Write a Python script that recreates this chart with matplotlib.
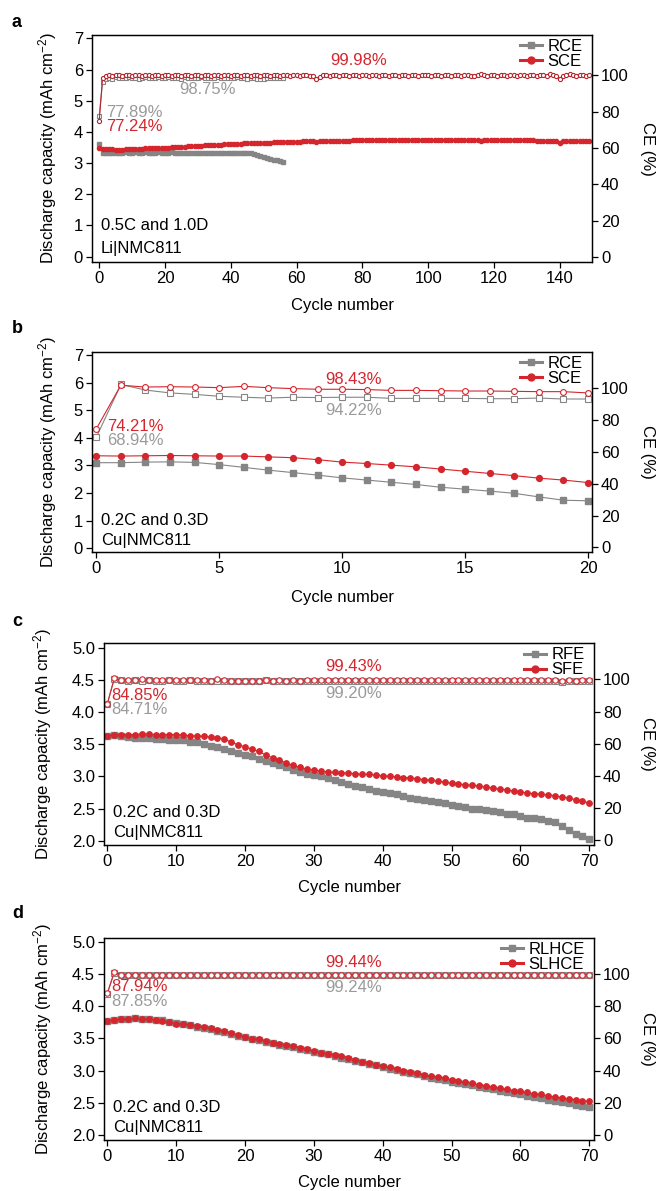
import numpy as np
import matplotlib.pyplot as plt
from matplotlib.lines import Line2D

plt.rcParams['font.family'] = ['Liberation Sans', 'DejaVu Sans']
plt.rcParams['mathtext.default'] = 'regular'
plt.rcParams['font.size'] = 12
plt.rcParams['axes.linewidth'] = 0.9

RED = '#d5262d'
GREY = '#858585'
GREY_TXT = '#9a9a9a'
FS = 12

# ---------------- panel a : Li|NMC811, 0.5C / 1.0D ----------------
cap_a_rce = [3.62, 3.34, 3.33, 3.34, 3.34, 3.33, 3.34, 3.34, 3.35, 3.34,
             3.34, 3.35, 3.34, 3.34, 3.35, 3.34, 3.34, 3.34, 3.35, 3.34,
             3.34, 3.34, 3.35, 3.34, 3.34, 3.34, 3.33, 3.34, 3.34, 3.33,
             3.34, 3.33, 3.33, 3.34, 3.33, 3.33, 3.33, 3.32, 3.33, 3.33,
             3.32, 3.32, 3.32, 3.32, 3.31, 3.31, 3.31, 3.30, 3.27, 3.23,
             3.19, 3.16, 3.13, 3.11, 3.09, 3.07, 3.05]
ce_a_rce = [77.89, 96.2, 98.0, 98.6, 98.3, 98.9, 98.5, 98.7, 98.4, 98.9,
            98.6, 98.8, 98.3, 98.7, 99.0, 98.5, 98.8, 98.6, 98.9, 98.4,
            98.7, 98.9, 98.5, 98.8, 98.6, 98.3, 98.9, 98.7, 98.5, 98.8,
            98.6, 98.9, 98.4, 98.7, 98.8, 98.5, 98.9, 98.6, 98.7, 98.4,
            98.8, 98.6, 98.9, 98.5, 98.7, 98.3, 98.6, 98.8, 98.2, 97.9,
            98.1, 98.4, 98.6, 98.7, 98.5, 98.8, 98.6]
cap_a_sce = [3.47, 3.46, 3.45, 3.44, 3.44, 3.43, 3.43, 3.43, 3.44, 3.44,
             3.45, 3.45, 3.46, 3.46, 3.47, 3.47, 3.48, 3.48, 3.49, 3.49,
             3.50, 3.50, 3.51, 3.52, 3.52, 3.53, 3.53, 3.54, 3.55, 3.55,
             3.56, 3.56, 3.57, 3.57, 3.58, 3.58, 3.59, 3.59, 3.60, 3.60,
             3.61, 3.61, 3.62, 3.62, 3.63, 3.63, 3.64, 3.64, 3.65, 3.65,
             3.66, 3.66, 3.66, 3.67, 3.67, 3.67, 3.68, 3.68, 3.68, 3.69,
             3.69, 3.69, 3.70, 3.70, 3.70, 3.70, 3.68, 3.70, 3.71, 3.71,
             3.71, 3.71, 3.72, 3.72, 3.72, 3.72, 3.72, 3.73, 3.73, 3.73,
             3.73, 3.73, 3.73, 3.74, 3.74, 3.74, 3.74, 3.74, 3.74, 3.74,
             3.74, 3.74, 3.75, 3.75, 3.75, 3.75, 3.75, 3.75, 3.75, 3.75,
             3.75, 3.75, 3.75, 3.75, 3.75, 3.75, 3.75, 3.75, 3.75, 3.75,
             3.75, 3.75, 3.74, 3.74, 3.74, 3.73, 3.71, 3.74, 3.74, 3.74,
             3.74, 3.74, 3.74, 3.74, 3.74, 3.74, 3.73, 3.73, 3.73, 3.73,
             3.73, 3.73, 3.73, 3.72, 3.72, 3.72, 3.72, 3.72, 3.72, 3.71,
             3.64, 3.70, 3.71, 3.71, 3.71, 3.71, 3.71, 3.71, 3.71, 3.72]
ce_a_sce = [75.0, 98.4, 99.9, 100.1, 99.8, 100.2, 100.0, 99.9, 100.3, 100.1,
            99.8, 100.2, 100.0, 99.9, 100.1, 100.3, 99.8, 100.0, 100.2, 99.9,
            100.1, 100.0, 99.8, 100.2, 100.1, 99.9, 100.3, 100.0, 99.8, 100.1,
            100.2, 99.9, 100.0, 100.1, 99.8, 100.2, 100.0, 99.9, 100.1, 100.0,
            99.8, 100.2, 100.1, 99.9, 100.0, 100.2, 99.8, 100.1, 100.0, 99.9,
            100.2, 100.0, 99.8, 100.1, 100.2, 99.9, 100.0, 100.1, 99.8, 100.0,
            100.2, 99.9, 100.1, 100.0, 99.8, 99.6, 97.8, 99.4, 100.0, 100.2,
            99.9, 100.1, 100.0, 99.8, 100.2, 100.0, 99.9, 100.1, 100.0, 99.8,
            100.2, 100.1, 99.9, 100.0, 100.2, 99.8, 100.1, 100.0, 99.9, 100.5,
            100.2, 99.9, 100.1, 100.0, 99.8, 100.2, 100.0, 99.9, 100.1, 100.0,
            100.2, 99.8, 100.0, 100.1, 99.9, 100.2, 100.0, 99.8, 100.4, 100.1,
            99.9, 100.0, 100.1, 99.8, 99.6, 100.0, 101.0, 100.2, 99.9, 100.1,
            100.0, 99.8, 100.2, 100.0, 99.9, 100.1, 100.0, 99.8, 100.2, 100.1,
            99.9, 100.0, 100.2, 99.8, 100.1, 100.3, 99.9, 100.6, 100.2, 99.8,
            97.8, 99.5, 100.0, 100.9, 100.1, 99.9, 100.0, 100.2, 99.9, 100.1]
names_a = ['RCE', 'SCE']
# order: top red, top grey, first-cycle red, first-cycle grey
notes_a = ['99.98%', '98.75%', '77.24%', '77.89%']
cond_a = ['0.5C and 1.0D', 'Li|NMC811']

# ---------------- panel b : Cu|NMC811, 20 cycles ----------------
cap_b_rce = [3.10, 3.10, 3.12, 3.13, 3.11, 3.03, 2.93, 2.83, 2.74, 2.65, 2.55,
             2.47, 2.39, 2.31, 2.21, 2.14, 2.07, 1.99, 1.86, 1.74, 1.72]
ce_b_rce = [68.94, 102.0, 98.5, 96.7, 95.8, 94.6, 94.0, 93.5, 94.0, 93.8, 94.0,
            94.0, 93.3, 93.3, 93.3, 93.3, 93.1, 93.1, 93.5, 92.9, 92.9]
cap_b_sce = [3.35, 3.34, 3.35, 3.36, 3.35, 3.34, 3.34, 3.31, 3.28, 3.21, 3.12,
             3.07, 3.01, 2.95, 2.87, 2.79, 2.71, 2.63, 2.54, 2.47, 2.38]
ce_b_sce = [74.21, 101.5, 100.4, 100.6, 100.4, 100.0, 100.8, 100.0, 99.4, 99.0, 99.0,
            98.8, 98.3, 98.3, 98.1, 97.9, 97.9, 97.7, 97.5, 97.5, 96.7]
names_b = ['RCE', 'SCE']
notes_b = ['98.43%', '94.22%', '74.21%', '68.94%']
cond_b = ['0.2C and 0.3D', 'Cu|NMC811']

# ---------------- panel c : RFE / SFE, 70 cycles ----------------
cap_c_rfe = [3.63, 3.64, 3.62, 3.61, 3.60, 3.59, 3.59, 3.58, 3.58, 3.57,
             3.57, 3.56, 3.54, 3.53, 3.50, 3.47, 3.45, 3.43, 3.40, 3.36,
             3.33, 3.31, 3.27, 3.24, 3.21, 3.18, 3.14, 3.10, 3.07, 3.04,
             3.02, 3.00, 2.97, 2.94, 2.91, 2.88, 2.85, 2.83, 2.80, 2.78,
             2.76, 2.74, 2.73, 2.70, 2.67, 2.65, 2.63, 2.61, 2.60, 2.58,
             2.56, 2.54, 2.52, 2.50, 2.49, 2.47, 2.46, 2.44, 2.42, 2.41,
             2.38, 2.36, 2.35, 2.33, 2.31, 2.29, 2.23, 2.16, 2.11, 2.08,
             2.03]
ce_c_rfe = [84.71, 100.2, 99.4, 99.3, 99.5, 99.2, 99.4, 99.3, 99.2, 99.4,
            99.3, 99.2, 99.4, 99.3, 99.1, 99.2, 99.3, 99.1, 99.0, 99.2,
            99.1, 99.3, 99.2, 99.4, 99.3, 99.2, 99.3, 99.1, 99.2, 99.3,
            99.2, 99.3, 99.2, 99.1, 99.3, 99.2, 99.3, 99.2, 99.1, 99.3,
            99.2, 99.3, 99.2, 99.1, 99.3, 99.2, 99.3, 99.1, 99.2, 99.3,
            99.2, 99.1, 99.3, 99.2, 99.3, 99.2, 99.1, 99.3, 99.2, 99.3,
            99.1, 99.2, 99.3, 99.2, 99.1, 99.0, 98.5, 98.8, 99.0, 99.1,
            99.2]
cap_c_sfe = [3.63, 3.65, 3.65, 3.65, 3.65, 3.66, 3.66, 3.65, 3.65, 3.65,
             3.65, 3.64, 3.63, 3.63, 3.62, 3.61, 3.60, 3.58, 3.53, 3.49,
             3.46, 3.42, 3.39, 3.33, 3.29, 3.25, 3.21, 3.17, 3.14, 3.11,
             3.10, 3.08, 3.07, 3.06, 3.05, 3.05, 3.04, 3.03, 3.03, 3.02,
             3.01, 3.00, 2.99, 2.98, 2.98, 2.96, 2.95, 2.94, 2.92, 2.91,
             2.89, 2.88, 2.87, 2.86, 2.85, 2.83, 2.82, 2.80, 2.79, 2.77,
             2.76, 2.74, 2.73, 2.72, 2.71, 2.70, 2.68, 2.66, 2.64, 2.61,
             2.59]
ce_c_sfe = [84.85, 100.6, 99.6, 99.5, 99.6, 100.0, 99.7, 99.6, 99.5, 99.6,
            99.5, 99.6, 99.5, 99.7, 99.6, 99.3, 100.0, 99.4, 99.2, 99.3,
            99.3, 99.2, 99.3, 99.4, 99.3, 99.4, 99.3, 99.4, 99.3, 99.5,
            99.4, 99.5, 99.4, 99.5, 99.4, 99.5, 99.4, 99.5, 99.4, 99.5,
            99.4, 99.5, 99.4, 99.5, 99.4, 99.5, 99.4, 99.5, 99.4, 99.5,
            99.5, 99.4, 99.5, 99.4, 99.5, 99.4, 99.5, 99.4, 99.5, 99.4,
            99.5, 99.4, 99.5, 99.4, 99.5, 99.4, 99.2, 99.4, 99.3, 99.5,
            99.6]
names_c = ['RFE', 'SFE']
notes_c = ['99.43%', '99.20%', '84.85%', '84.71%']
cond_c = ['0.2C and 0.3D', 'Cu|NMC811']

# ---------------- panel d : RLHCE / SLHCE, 70 cycles ----------------
cap_d_rlhce = [3.77, 3.79, 3.80, 3.80, 3.81, 3.80, 3.80, 3.79, 3.78, 3.76,
               3.74, 3.72, 3.70, 3.68, 3.66, 3.64, 3.62, 3.60, 3.57, 3.54,
               3.52, 3.49, 3.47, 3.45, 3.42, 3.40, 3.38, 3.36, 3.34, 3.32,
               3.29, 3.27, 3.25, 3.22, 3.20, 3.18, 3.15, 3.13, 3.10, 3.08,
               3.05, 3.03, 3.01, 2.98, 2.96, 2.94, 2.91, 2.89, 2.87, 2.85,
               2.83, 2.81, 2.79, 2.77, 2.75, 2.73, 2.71, 2.69, 2.67, 2.65,
               2.63, 2.61, 2.59, 2.57, 2.55, 2.53, 2.51, 2.49, 2.47, 2.45,
               2.43]
ce_d_rlhce = [87.85, 100.6, 99.3, 99.2, 99.3, 99.2, 99.1, 99.3, 99.2, 99.3,
              99.2, 99.4, 99.2, 99.3, 99.2, 99.1, 99.3, 99.2, 99.3, 99.2,
              99.1, 99.3, 99.2, 99.3, 99.2, 99.1, 99.3, 99.2, 99.3, 99.2,
              99.3, 99.2, 99.1, 99.3, 99.2, 99.3, 99.2, 99.1, 99.3, 99.2,
              99.3, 99.2, 99.1, 99.3, 99.2, 99.3, 99.2, 99.1, 99.3, 99.2,
              99.3, 99.2, 99.1, 99.3, 99.2, 99.3, 99.2, 99.4, 99.3, 99.2,
              99.3, 99.2, 99.1, 99.3, 99.2, 99.3, 99.2, 99.1, 99.3, 99.6,
              99.2]
cap_d_slhce = [3.77, 3.79, 3.80, 3.80, 3.81, 3.80, 3.80, 3.78, 3.77, 3.75,
               3.73, 3.73, 3.71, 3.69, 3.67, 3.66, 3.63, 3.61, 3.58, 3.55,
               3.52, 3.49, 3.49, 3.46, 3.43, 3.41, 3.39, 3.38, 3.35, 3.33,
               3.30, 3.28, 3.26, 3.24, 3.22, 3.20, 3.17, 3.14, 3.12, 3.09,
               3.07, 3.05, 3.02, 3.00, 2.98, 2.96, 2.93, 2.91, 2.90, 2.88,
               2.86, 2.84, 2.82, 2.80, 2.78, 2.76, 2.74, 2.73, 2.71, 2.69,
               2.68, 2.66, 2.64, 2.63, 2.61, 2.59, 2.58, 2.56, 2.55, 2.53,
               2.52]
ce_d_slhce = [87.94, 101.2, 99.5, 99.4, 99.5, 99.4, 99.5, 99.4, 99.5, 99.4,
              99.5, 99.6, 99.5, 99.4, 99.5, 99.4, 99.5, 99.4, 99.5, 99.4,
              99.5, 99.4, 99.5, 99.4, 99.5, 99.4, 99.5, 99.4, 99.5, 99.4,
              99.5, 99.4, 99.5, 99.4, 99.5, 99.4, 99.5, 99.4, 99.5, 99.4,
              99.5, 99.4, 99.5, 99.4, 99.5, 99.4, 99.5, 99.4, 99.5, 99.4,
              99.5, 99.4, 99.5, 99.4, 99.5, 99.4, 99.5, 99.4, 99.5, 99.4,
              99.5, 99.4, 99.5, 99.4, 99.5, 99.4, 99.5, 99.4, 99.5, 99.4,
              99.5]
names_d = ['RLHCE', 'SLHCE']
notes_d = ['99.44%', '99.24%', '87.94%', '87.85%']
cond_d = ['0.2C and 0.3D', 'Cu|NMC811']


fig = plt.figure(figsize=(6.6, 11.91), dpi=100)


def draw_panel(rect, letter, letter_y, cap_r, ce_r, cap_s, ce_s, names, notes, cond,
               note_pos, ms, xlim, xticks, ylim, yticks, yfmt, xlab_y, ylab_x,
               ce_edge=RED):
    ax = fig.add_axes(rect)
    ax2 = ax.twinx()
    xr = np.arange(len(cap_r))
    xs = np.arange(len(cap_s))

    # discharge capacity (left axis), filled markers
    ax.plot(xr, cap_r, '-s', color=GREY, mfc=GREY, mec=GREY, ms=ms, lw=0.8)
    ax.plot(xs, cap_s, '-o', color=RED, mfc=RED, mec=RED, ms=ms, lw=0.8)
    # coulombic efficiency (right axis), open markers
    ax2.plot(np.arange(len(ce_r)), ce_r, '-s', color=GREY, mfc='white', mec=GREY,
             ms=ms, mew=0.8, lw=0.8)
    ax2.plot(np.arange(len(ce_s)), ce_s, '-o', color=ce_edge, mfc='white', mec=ce_edge,
             ms=ms, mew=0.8, lw=0.8)

    ax.set_xlim(*xlim)
    ax.set_ylim(*ylim)
    ax2.set_ylim(-3.0, 122.5)
    ax.set_xticks(xticks)
    ax.set_yticks(yticks)
    ax.set_yticklabels([yfmt.format(v) for v in yticks])
    ax2.set_yticks(range(0, 101, 20))
    for a in (ax, ax2):
        a.tick_params(direction='out', length=4, width=0.9, pad=2.5, labelsize=FS)

    ax.set_xlabel('Cycle number', fontsize=FS)
    ax.xaxis.set_label_coords(0.5, xlab_y)
    ax.set_ylabel('Discharge capacity (mAh cm$^{-2}$)', fontsize=FS)
    ax.yaxis.set_label_coords(ylab_x, 0.5)
    ax2.set_ylabel('CE (%)', rotation=270, fontsize=FS, va='center')
    ax2.yaxis.set_label_coords(1.11, 0.5)

    # percentage annotations: top pair (red, grey) and first-cycle pair (red, grey)
    cols = [RED, GREY_TXT, RED, GREY_TXT]
    for txt, col, (px, py, ha) in zip(notes, cols, note_pos):
        ax.text(px, py, txt, color=col, ha=ha, va='center', fontsize=FS)

    ax.text(0.018, 0.16, cond[0], transform=ax.transAxes, va='center', fontsize=FS)
    ax.text(0.018, 0.06, cond[1], transform=ax.transAxes, va='center', fontsize=FS)

    handles = [Line2D([], [], color=GREY, marker='s', lw=2.2, ms=5),
               Line2D([], [], color=RED, marker='o', lw=2.2, ms=5)]
    ax2.legend(handles, names, loc='upper right', bbox_to_anchor=(0.99, 1.0),
               frameon=False, fontsize=FS, handlelength=1.3, handletextpad=0.35,
               labelspacing=0.0, borderaxespad=0.15, borderpad=0.1)

    fig.text(0.018, letter_y, letter, fontsize=13, fontweight='bold', va='center')


draw_panel([0.1394, 0.7798, 0.7576, 0.1911], 'a', 0.9815,
           cap_a_rce, ce_a_rce, cap_a_sce, ce_a_sce, names_a, notes_a, cond_a,
           [(79, 6.3, 'center'), (33, 5.37, 'center'), (2.0, 4.17, 'left'), (2.0, 4.62, 'left')],
           3.0, (-2.2, 149.8), range(0, 141, 20), (-0.18, 7.12), range(0, 8), '{:d}',
           -0.155, -0.066, ce_edge='#b5262c')

draw_panel([0.1394, 0.5363, 0.7576, 0.1684], 'b', 0.7246,
           cap_b_rce, ce_b_rce, cap_b_sce, ce_b_sce, names_b, notes_b, cond_b,
           [(11.6, 6.1, 'right'), (11.6, 5.0, 'right'), (0.42, 4.4, 'left'), (0.42, 3.9, 'left')],
           4.2, (-0.175, 20.16), range(0, 21, 5), (-0.145, 7.12), range(0, 8), '{:d}',
           -0.19, -0.066)

draw_panel([0.1576, 0.2905, 0.7424, 0.1694], 'c', 0.4778,
           cap_c_rfe, ce_c_rfe, cap_c_sfe, ce_c_sfe, names_c, notes_c, cond_c,
           [(39.9, 4.70, 'right'), (39.9, 4.28, 'right'), (0.5, 4.25, 'left'), (0.5, 4.04, 'left')],
           3.9, (-0.48, 70.68), range(0, 71, 10), (1.933, 5.068), np.arange(2.0, 5.01, 0.5), '{:.1f}',
           -0.175, -0.102)

draw_panel([0.1576, 0.0428, 0.7424, 0.1699], 'd', 0.2334,
           cap_d_rlhce, ce_d_rlhce, cap_d_slhce, ce_d_slhce, names_d, notes_d, cond_d,
           [(39.9, 4.68, 'right'), (39.9, 4.29, 'right'), (0.5, 4.30, 'left'), (0.5, 4.07, 'left')],
           3.9, (-0.48, 70.68), range(0, 71, 10), (1.922, 5.062), np.arange(2.0, 5.01, 0.5), '{:.1f}',
           -0.175, -0.102)

fig.savefig('out.png', dpi=100)
